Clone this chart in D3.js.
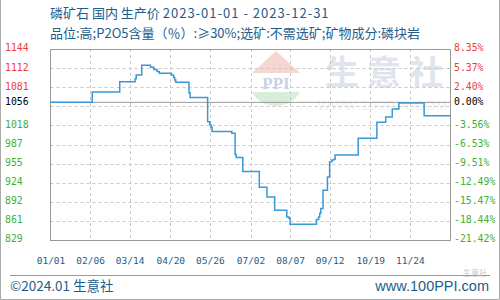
<!DOCTYPE html>
<html>
<head>
<meta charset="utf-8">
<script src="https://cdn.jsdelivr.net/npm/d3@7"></script>
<style>
body { margin: 0; background: #fff; }
svg { display: block; }
</style>
</head>
<body>
<svg id="svg" width="500" height="300"></svg>
<script>
let titleName = "磷矿石 国内 生产价 ";
let titleRange = "2023-01-01 - 2023-12-31";
let subtitleText = "品位:高;P2O5含量（％）:≥30%;选矿:不需选矿;矿物成分:磷块岩";

// price change points (step data)
let priceDates = ["2023-01-01","2023-02-08","2023-03-05","2023-03-19","2023-03-20","2023-03-25",
	"2023-04-02","2023-04-05","2023-04-08","2023-04-10","2023-04-21","2023-04-23","2023-04-24","2023-04-25",
	"2023-05-07","2023-05-08","2023-05-24","2023-05-26","2023-05-27","2023-05-28",
	"2023-06-15","2023-06-18","2023-06-19","2023-06-25","2023-07-10","2023-07-17","2023-07-24",
	"2023-08-04","2023-08-06","2023-08-07","2023-08-31","2023-09-02","2023-09-03","2023-09-04","2023-09-06",
	"2023-09-10","2023-09-12","2023-09-14","2023-09-16","2023-09-17","2023-10-08","2023-10-25",
	"2023-11-02","2023-11-08","2023-11-14","2023-12-07","2023-12-31"];
let priceValues = [1056,1073,1090,1095,1101,1117,
	1114,1110,1107,1104,1101,1097,1093,1089,
	1072,1064,1024,1019,1015,1008,
	1005,970,965,942,916,900,878,
	867,865,855,863,867,873,881,911,
	933,958,961,962,969,997,1023,
	1032,1045,1055,1034,1034];

let baseValue = 1056;
let leftTickValues = [1144,1112.5,1081,1056,1018,986.5,955,923.5,892,860.5,829];
let leftTickLabels = ["1144","1112","1081","1056","1018","987","955","924","892","861","829"];
let rightTickLabels = ["8.35%","5.37%","2.40%","0.00%","-3.56%","-6.53%","-9.51%","-12.49%","-15.47%","-18.44%","-21.42%"];
let gridValues = [1112.5,1081,1049.5,1018,986.5,955,923.5,892,860.5];
let xTickDates = ["2023-01-01","2023-02-06","2023-03-14","2023-04-20","2023-05-26","2023-07-02","2023-08-07","2023-09-12","2023-10-19","2023-11-24","2023-12-31"];

let parse = d3.timeParse("%Y-%m-%d");
let svg = d3.select("#svg");
let area = {left: 50.5, right: 450.5, top: 49, bottom: 240};

let red = "#ee3b3b", green = "#3db036", blue = "#1d5c8c";

let xScale = d3.scaleTime()
	.domain([parse("2023-01-01"), parse("2023-12-31")])
	.range([area.left, area.right]);
let yScale = d3.scaleLinear()
	.domain([829, 1144])
	.range([area.bottom, area.top]);

// outer frame (no top edge)
svg.append("path")
	.attr("d", "M0.5,0 V299.5 H499.5 V0")
	.attr("fill", "none").attr("stroke", "#aaa");

// titles
let title = svg.append("text").attr("x", 50).attr("y", 18)
	.attr("font-family", "Noto Sans CJK SC").attr("font-size", 13)
	.attr("fill", blue);
title.append("tspan").text(titleName);
title.append("tspan").attr("letter-spacing", 1).text(titleRange);
svg.append("text").attr("x", 50).attr("y", 38)
	.attr("font-family", "Noto Sans CJK SC").attr("font-size", 13)
	.attr("fill", blue).text(subtitleText);

// watermark
let wm = svg.append("g");
wm.append("path").attr("d", "M252,73 L276,51 L300,73 Z").attr("fill", "#f7d6d2");
wm.append("text").attr("x", 276).attr("y", 89).attr("text-anchor", "middle")
	.attr("font-family", "Liberation Serif").attr("font-weight", "bold").attr("font-size", 17)
	.attr("fill", "#c9d1e2").text("PPI");
wm.append("path").attr("d", "M252,92 H300 Q293,105 276,106 Q259,105 252,92 Z").attr("fill", "#d9eeda");
wm.append("text").attr("x", 325).attr("y", 85)
	.attr("font-family", "Noto Sans CJK SC").attr("font-weight", "bold").attr("font-size", 34).attr("letter-spacing", 8)
	.attr("fill", "#e0e4ed").text("生意社");
wm.append("text").attr("x", 383).attr("y", 110).attr("text-anchor", "middle")
	.attr("font-family", "Liberation Sans").attr("font-size", 13).attr("letter-spacing", 1)
	.attr("fill", "#eef0f4").text("WWW.100PPI.COM");

// dashed grid
let grid = svg.append("g").attr("stroke", "#c8c8c8").attr("stroke-dasharray", "3,3");
grid.selectAll("line.h").data(gridValues).enter().append("line")
	.attr("x1", area.left).attr("x2", area.right)
	.attr("y1", d => Math.round(yScale(d)) + 0.5).attr("y2", d => Math.round(yScale(d)) + 0.5);
grid.selectAll("line.v").data(xTickDates.slice(1, -1)).enter().append("line")
	.attr("x1", d => Math.round(xScale(parse(d))) + 0.5).attr("x2", d => Math.round(xScale(parse(d))) + 0.5)
	.attr("y1", area.top).attr("y2", area.bottom);

// base line
svg.append("line")
	.attr("x1", area.left).attr("x2", area.right)
	.attr("y1", yScale(baseValue)).attr("y2", yScale(baseValue))
	.attr("stroke", "#999").attr("stroke-width", 1);

// plot frame
svg.append("rect")
	.attr("x", area.left).attr("y", area.top + 0.5)
	.attr("width", area.right - area.left).attr("height", area.bottom - area.top)
	.attr("fill", "none").attr("stroke", "#999");

// price line
let priceData = priceDates.map((d, i) => ({date: parse(d), value: priceValues[i]}));
let line = d3.line()
	.x(d => xScale(d.date))
	.y(d => yScale(d.value))
	.curve(d3.curveStepAfter);
svg.append("path").datum(priceData)
	.attr("d", line)
	.attr("fill", "none").attr("stroke", "#3a98d6").attr("stroke-width", 1.5);

// left labels
svg.selectAll("text.left").data(leftTickValues).enter().append("text")
	.attr("x", 5).attr("y", d => yScale(d) - 1).attr("dy", "0.35em")
	.attr("font-family", "DejaVu Sans Mono").attr("font-size", 9.8)
	.attr("fill", d => d > baseValue ? red : (d < baseValue ? green : "#000"))
	.text((d, i) => leftTickLabels[i]);

// right labels
svg.selectAll("text.right").data(leftTickValues).enter().append("text")
	.attr("x", 454).attr("y", d => yScale(d) - 1).attr("dy", "0.35em")
	.attr("font-family", "DejaVu Sans Mono").attr("font-size", 9.8)
	.attr("fill", d => d > baseValue ? red : (d < baseValue ? green : "#000"))
	.text((d, i) => rightTickLabels[i]);

// x axis labels
let xAxis = svg.append("g")
	.attr("transform", "translate(0," + area.bottom + ")")
	.call(d3.axisBottom(xScale)
		.tickValues(xTickDates.slice(0, -1).map(parse))
		.tickFormat(d3.timeFormat("%m/%d"))
		.tickSize(0).tickPadding(17));
xAxis.select(".domain").remove();
xAxis.selectAll("text")
	.attr("font-family", "DejaVu Sans Mono").attr("font-size", 9.5)
	.attr("fill", blue);

// footer
svg.append("line").attr("x1", 10).attr("x2", 490).attr("y1", 275.5).attr("y2", 275.5)
	.attr("stroke", "#999");
svg.append("text").attr("x", 10).attr("y", 291)
	.attr("font-family", "Noto Sans CJK SC").attr("font-size", 13.5)
	.attr("fill", blue).text("©2024.01 生意社");
svg.append("text").attr("x", 489).attr("y", 291).attr("text-anchor", "end")
	.attr("font-family", "Liberation Sans").attr("font-size", 14.5)
	.attr("fill", blue).text("www.100PPI.com");
svg.append("text").attr("x", 487).attr("y", 276).attr("text-anchor", "end")
	.attr("font-family", "Noto Sans CJK SC").attr("font-size", 8)
	.attr("fill", "#bbb").attr("opacity", 0.8).text("生意社");
</script>
</body>
</html>
